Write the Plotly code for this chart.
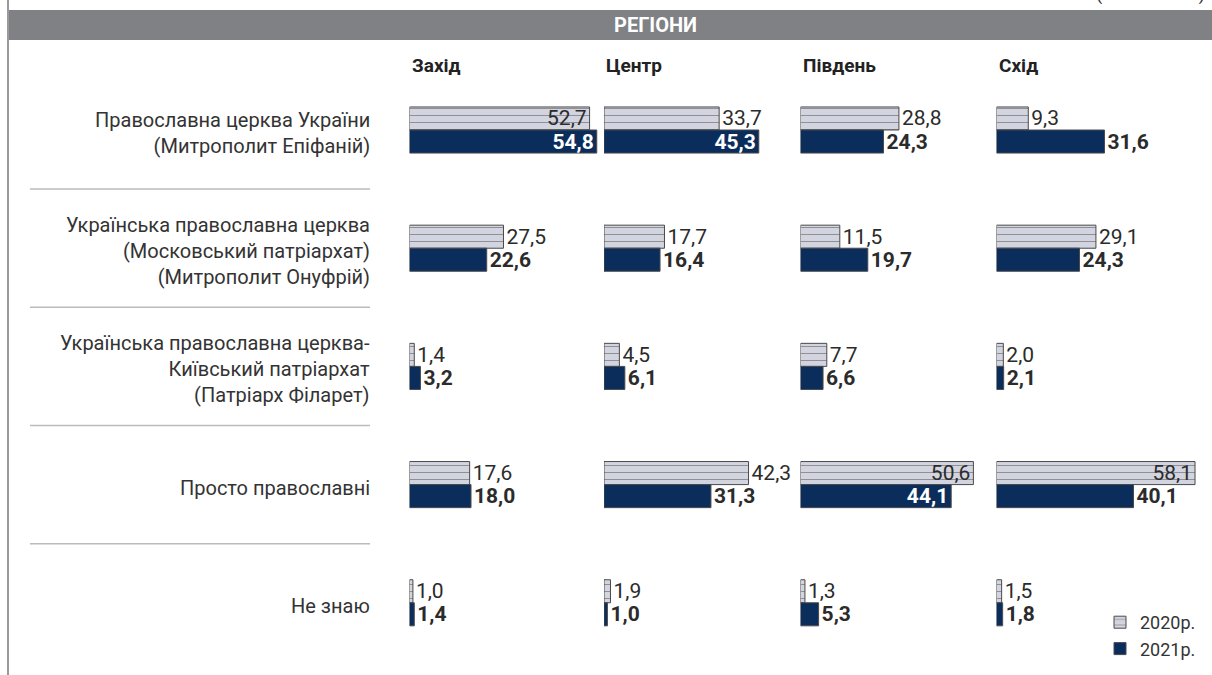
import plotly.graph_objects as go
from plotly.subplots import make_subplots

# ---------------- data ----------------
categories = [
    "Православна церква України<br>(Митрополит Епіфаній)",
    "Українська православна церква<br>(Московський патріархат)<br>(Митрополит Онуфрій)",
    "Українська православна церква-<br>Київський патріархат<br>(Патріарх Філарет)",
    "Просто православні",
    "Не знаю",
]
regions = ["Захід", "Центр", "Південь", "Схід"]
years = ["2020р.", "2021р."]

v2020_zakhid = [52.7, 27.5, 1.4, 17.6, 1.0]
v2020_tsentr = [33.7, 17.7, 4.5, 42.3, 1.9]
v2020_pivden = [28.8, 11.5, 7.7, 50.6, 1.3]
v2020_skhid = [9.3, 29.1, 2.0, 58.1, 1.5]

v2021_zakhid = [54.8, 22.6, 3.2, 18.0, 1.4]
v2021_tsentr = [45.3, 16.4, 6.1, 31.3, 1.0]
v2021_pivden = [24.3, 19.7, 6.6, 44.1, 5.3]
v2021_skhid = [31.6, 24.3, 2.1, 40.1, 1.8]

values_2020 = [v2020_zakhid, v2020_tsentr, v2020_pivden, v2020_skhid]
values_2021 = [v2021_zakhid, v2021_tsentr, v2021_pivden, v2021_skhid]

# ---------------- layout constants ----------------
W, H = 1212, 675
PX_PER_UNIT = 3.417
COL_START_PX = [409.5, 604, 800.5, 996.5]
XMAX = 60
INSIDE_THRESHOLD = 43

C2020 = "#d2d4df"
C2021 = "#0b2d5c"
EDGE = "#4a4a4a"
TXT = "#2b2b2b"
VAL_FONT = "Roboto, sans-serif"
LBL_FONT = "Roboto, sans-serif"
VAL_SIZE = 21


def fmt(v):
    return f"{v:.1f}".replace(".", ",")


fig = make_subplots(rows=1, cols=4, shared_yaxes=True)

for j in range(len(regions)):
    for year, vals in ((years[0], values_2020[j]), (years[1], values_2021[j])):
        is20 = year == years[0]
        marker = dict(color=C2021, line=dict(color=EDGE, width=1))
        if is20:
            marker = dict(
                color=C2020,
                line=dict(color=EDGE, width=1),
                pattern=dict(shape="-", fgcolor="#555555", bgcolor=C2020,
                             size=7, solidity=0.12, fgopacity=0.65),
            )
        fig.add_trace(
            go.Bar(
                y=categories,
                x=vals,
                orientation="h",
                name=year,
                legendgroup=year,
                showlegend=(j == 0),
                marker=marker,
                text=[fmt(v) for v in vals],
                textposition=["inside" if v > INSIDE_THRESHOLD else "outside" for v in vals],
                insidetextanchor="end",
                constraintext="none",
                cliponaxis=False,
                textangle=0,
                insidetextfont=dict(family=VAL_FONT, size=VAL_SIZE,
                                    color=TXT if is20 else "white",
                                    weight="normal" if is20 else "bold"),
                outsidetextfont=dict(family=VAL_FONT, size=VAL_SIZE, color=TXT,
                                     weight="normal" if is20 else "bold"),
                hoverinfo="skip",
            ),
            row=1, col=j + 1,
        )

for j, s in enumerate(COL_START_PX):
    key = "xaxis" if j == 0 else f"xaxis{j + 1}"
    fig.layout[key].update(
        domain=[s / W, (s + XMAX * PX_PER_UNIT) / W],
        range=[0, XMAX], visible=False, fixedrange=True,
    )

fig.update_yaxes(
    type="category", categoryarray=categories, categoryorder="array",
    range=[4.611, -1.1], autorange=False, visible=False,
    domain=[0, 1], fixedrange=True,
)

annotations = []
shapes = []

# category labels and separators
for i, c in enumerate(categories):
    annotations.append(dict(
        text=c, xref="paper", yref="y", x=372 / W, y=c, yshift=-3,
        xanchor="right", yanchor="middle", align="right", showarrow=False,
        font=dict(family=LBL_FONT, size=20, color="#333333"),
    ))
    if i < len(categories) - 1:
        shapes.append(dict(
            type="line", xref="paper", yref="y",
            x0=30 / W, x1=370 / W, y0=i + 0.5, y1=i + 0.5,
            line=dict(color="#bbbbbb", width=1.5),
        ))

# region headers
for j, r in enumerate(regions):
    xa = "x" if j == 0 else f"x{j + 1}"
    annotations.append(dict(
        text=f"<b>{r}</b>", xref=f"{xa} domain", yref="paper",
        x=0, y=1 - 65 / H, xanchor="left", yanchor="middle", showarrow=False,
        font=dict(family=LBL_FONT, size=19, color="#222222"),
    ))

# header bar
shapes.append(dict(
    type="rect", xref="paper", yref="paper",
    x0=8 / W, x1=1, y0=1 - 40 / H, y1=1 - 10 / H,
    fillcolor="#808184", line=dict(width=0), layer="below",
))
annotations.append(dict(
    text="<b>РЕГІОНИ</b>", xref="paper", yref="paper",
    x=655 / W, y=1 - 25 / H, xanchor="center", yanchor="middle",
    showarrow=False, font=dict(family=LBL_FONT, size=20, color="white"),
))

# left border line
shapes.append(dict(
    type="line", xref="paper", yref="paper",
    x0=8 / W, x1=8 / W, y0=0, y1=1,
    line=dict(color="#9a9a9a", width=2),
))

# cut-off note at top right
annotations.append(dict(
    text="(% опитаних)", xref="paper", yref="paper",
    x=1207 / W, y=1 - 7 / H, xanchor="right", yanchor="bottom",
    showarrow=False, font=dict(family=LBL_FONT, size=18, color="#333333"),
))

fig.update_layout(
    width=W, height=H,
    margin=dict(l=0, r=0, t=0, b=0),
    paper_bgcolor="white", plot_bgcolor="rgba(0,0,0,0)",
    barmode="group", bargap=0.61, bargroupgap=0,
    annotations=annotations, shapes=shapes,
    legend=dict(
        x=1100 / W, y=1 - 604 / H, xanchor="left", yanchor="top",
        font=dict(family=LBL_FONT, size=18, color="#333333"),
        bgcolor="rgba(0,0,0,0)", tracegroupgap=10, traceorder="normal",
    ),
    font=dict(family=LBL_FONT),
)

fig.write_html(
    "out.html",
    config={"displayModeBar": False, "staticPlot": True},
    post_script="document.body.style.margin='0px';document.body.style.overflow='hidden';",
)
